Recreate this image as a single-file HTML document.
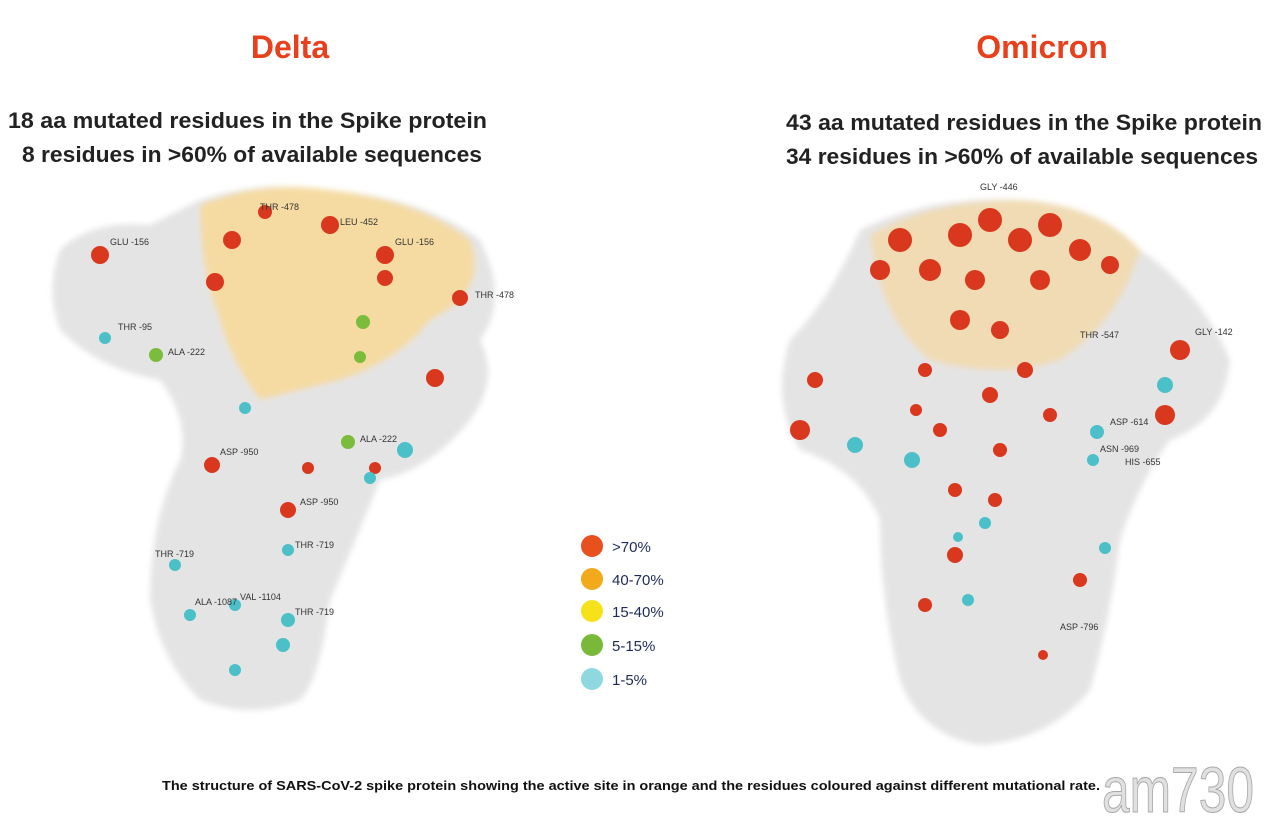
<!DOCTYPE html>
<html><head><meta charset="utf-8"><style>
body{margin:0;background:#fff;width:1280px;height:832px;overflow:hidden;font-family:"Liberation Sans",sans-serif}
</style></head><body>
<svg width="1280" height="832" viewBox="0 0 1280 832" xmlns="http://www.w3.org/2000/svg" font-family="Liberation Sans, sans-serif">
<defs>
<filter id="b" x="-10%" y="-10%" width="120%" height="120%"><feGaussianBlur stdDeviation="3"/></filter>
</defs>
<rect width="1280" height="832" fill="#fff"/>
<text x="290" y="58" text-anchor="middle" font-size="32" font-weight="bold" fill="#e8401c">Delta</text>
<text x="1042" y="58" text-anchor="middle" font-size="32" font-weight="bold" fill="#e8401c">Omicron</text>
<g font-size="22" font-weight="bold" fill="#222">
<text x="8" y="128" textLength="479" lengthAdjust="spacingAndGlyphs">18 aa mutated residues in the Spike protein</text>
<text x="22" y="162" textLength="460" lengthAdjust="spacingAndGlyphs">8 residues in &gt;60% of available sequences</text>
<text x="786" y="130" textLength="476" lengthAdjust="spacingAndGlyphs">43 aa mutated residues in the Spike protein</text>
<text x="786" y="164" textLength="472" lengthAdjust="spacingAndGlyphs">34 residues in &gt;60% of available sequences</text>
</g>
<!-- Delta protein -->
<g filter="url(#b)">
<path d="M60 250 Q90 220 150 225 L200 200 Q260 180 320 190 Q420 195 480 240 Q510 300 480 340 Q500 380 470 420 Q430 470 380 480 Q360 530 330 600 Q320 680 300 700 Q250 720 200 700 Q160 660 150 600 Q150 520 180 460 Q190 420 160 380 Q100 370 60 330 Q45 290 60 250Z" fill="#e4e4e4"/>
<path d="M200 205 Q260 180 330 190 Q420 200 470 240 Q490 290 430 320 Q400 360 340 380 Q300 390 260 400 Q230 360 220 320 Q200 270 200 205Z" fill="#f5dba2"/>
</g>
<!-- Omicron protein -->
<g filter="url(#b)">
<path d="M860 230 Q930 195 1020 200 Q1100 205 1140 250 Q1200 290 1230 360 Q1225 420 1170 440 Q1140 480 1120 540 Q1110 620 1090 690 Q1050 740 980 745 Q920 735 900 680 Q880 600 880 520 Q860 470 800 450 Q770 400 790 340 Q830 300 860 230Z" fill="#e4e4e4"/>
<path d="M870 235 Q930 200 1020 200 Q1100 205 1140 250 Q1120 320 1060 360 Q1000 380 930 360 Q880 320 870 235Z" fill="#f0dbb4"/>
</g>
<g fill="#d9381e">
<circle cx="100" cy="255" r="9"/><circle cx="232" cy="240" r="9"/><circle cx="265" cy="212" r="7"/><circle cx="330" cy="225" r="9"/><circle cx="385" cy="255" r="9"/><circle cx="385" cy="278" r="8"/><circle cx="215" cy="282" r="9"/><circle cx="460" cy="298" r="8"/><circle cx="435" cy="378" r="9"/><circle cx="212" cy="465" r="8"/><circle cx="288" cy="510" r="8"/><circle cx="308" cy="468" r="6"/><circle cx="375" cy="468" r="6"/>
<circle cx="900" cy="240" r="12"/><circle cx="960" cy="235" r="12"/><circle cx="990" cy="220" r="12"/><circle cx="1020" cy="240" r="12"/><circle cx="1050" cy="225" r="12"/><circle cx="1080" cy="250" r="11"/><circle cx="880" cy="270" r="10"/><circle cx="930" cy="270" r="11"/><circle cx="975" cy="280" r="10"/><circle cx="1040" cy="280" r="10"/><circle cx="1110" cy="265" r="9"/><circle cx="960" cy="320" r="10"/><circle cx="1000" cy="330" r="9"/><circle cx="800" cy="430" r="10"/><circle cx="815" cy="380" r="8"/><circle cx="925" cy="370" r="7"/><circle cx="990" cy="395" r="8"/><circle cx="1025" cy="370" r="8"/><circle cx="940" cy="430" r="7"/><circle cx="1050" cy="415" r="7"/><circle cx="1000" cy="450" r="7"/><circle cx="1165" cy="415" r="10"/><circle cx="1180" cy="350" r="10"/><circle cx="955" cy="490" r="7"/><circle cx="995" cy="500" r="7"/><circle cx="955" cy="555" r="8"/><circle cx="1080" cy="580" r="7"/><circle cx="925" cy="605" r="7"/><circle cx="1043" cy="655" r="5"/><circle cx="916" cy="410" r="6"/>
</g>
<g fill="#4cc0c8">
<circle cx="105" cy="338" r="6"/><circle cx="245" cy="408" r="6"/><circle cx="405" cy="450" r="8"/><circle cx="370" cy="478" r="6"/><circle cx="175" cy="565" r="6"/><circle cx="288" cy="550" r="6"/><circle cx="190" cy="615" r="6"/><circle cx="235" cy="605" r="6"/><circle cx="288" cy="620" r="7"/><circle cx="283" cy="645" r="7"/><circle cx="235" cy="670" r="6"/>
<circle cx="855" cy="445" r="8"/><circle cx="912" cy="460" r="8"/><circle cx="1097" cy="432" r="7"/><circle cx="1093" cy="460" r="6"/><circle cx="1165" cy="385" r="8"/><circle cx="985" cy="523" r="6"/><circle cx="958" cy="537" r="5"/><circle cx="1105" cy="548" r="6"/><circle cx="968" cy="600" r="6"/>
</g>
<g fill="#7cbc3c"><circle cx="156" cy="355" r="7"/><circle cx="363" cy="322" r="7"/><circle cx="360" cy="357" r="6"/><circle cx="348" cy="442" r="7"/></g>
<g font-size="9" fill="#333">
<text x="110" y="245">GLU -156</text><text x="260" y="210">THR -478</text><text x="340" y="225">LEU -452</text><text x="395" y="245">GLU -156</text><text x="475" y="298">THR -478</text><text x="118" y="330">THR -95</text><text x="168" y="355">ALA -222</text><text x="1195" y="335">GLY -142</text><text x="980" y="190">GLY -446</text><text x="1080" y="338">THR -547</text><text x="1100" y="452">ASN -969</text><text x="1110" y="425">ASP -614</text><text x="1125" y="465">HIS -655</text><text x="1060" y="630">ASP -796</text><text x="360" y="442">ALA -222</text><text x="220" y="455">ASP -950</text><text x="300" y="505">ASP -950</text><text x="155" y="557">THR -719</text><text x="295" y="548">THR -719</text><text x="240" y="600">VAL -1104</text><text x="195" y="605">ALA -1087</text><text x="295" y="615">THR -719</text>
</g>
<g>
<circle cx="592" cy="546" r="11" fill="#e8501e"/><circle cx="592" cy="579" r="11" fill="#f3a91a"/><circle cx="592" cy="611" r="11" fill="#f5e21a"/><circle cx="592" cy="645" r="11" fill="#7ab83a"/><circle cx="592" cy="679" r="11" fill="#8fd8e0"/>
<g font-size="15" fill="#1e2b5a"><text x="612" y="552">&gt;70%</text><text x="612" y="585">40-70%</text><text x="612" y="617">15-40%</text><text x="612" y="651">5-15%</text><text x="612" y="685">1-5%</text></g>
</g>
<text x="162" y="790" font-size="12.5" font-weight="bold" fill="#111" textLength="938" lengthAdjust="spacingAndGlyphs">The structure of SARS-CoV-2 spike protein showing the active site in orange and the residues coloured against different mutational rate.</text>
<text x="1102" y="812" font-size="64" fill="#e0e0e0" stroke="#a8a8a8" stroke-width="1" textLength="152" lengthAdjust="spacingAndGlyphs">am730</text>
</svg>
</body></html>
